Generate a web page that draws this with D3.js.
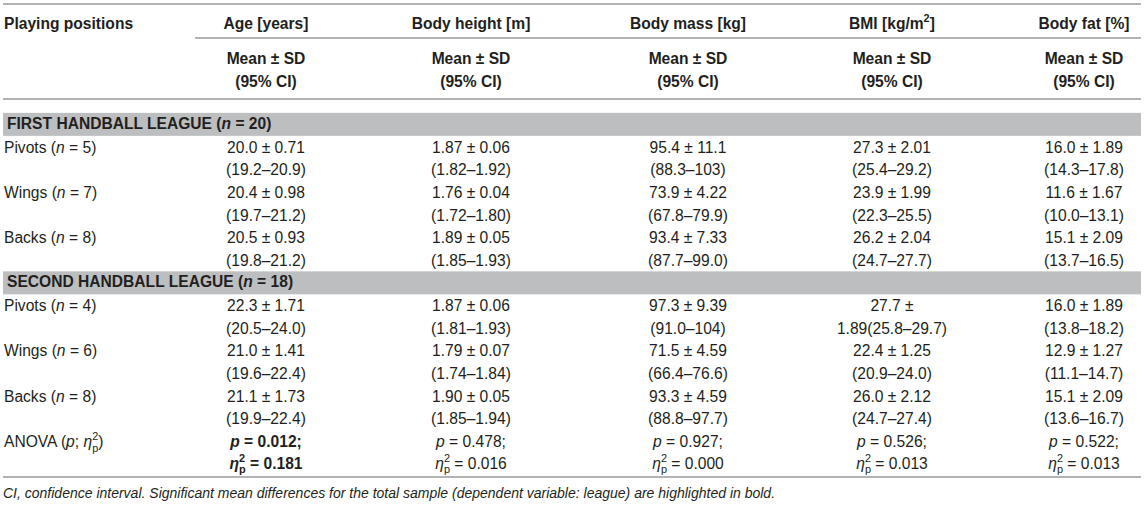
<!DOCTYPE html>
<html>
<head>
<meta charset="utf-8">
<script src="https://cdn.jsdelivr.net/npm/d3@7"></script>
<style>
  body { margin: 0; background: #fff; }
  svg { display: block; font-family: "Liberation Sans", Arial, sans-serif; }
</style>
</head>
<body>
<div id="table"></div>
<script>
var W = 1145,
	H = 511;

// column headers (*x* = italic, ^x = superscript, ^x_y = stacked sup/sub)
var columns = ["Age [years]", "Body height [m]", "Body mass [kg]", "BMI [kg/m^2]", "Body fat [%]"];
var positions = ["Pivots", "Wings", "Backs"];
var leagues = ["FIRST HANDBALL LEAGUE", "SECOND HANDBALL LEAGUE"];
var leagueN = [20, 18];
var groupN = [[5, 7, 8], [4, 6, 8]];

// first league, mean ± SD and 95% CI per position
var firstMeanSD = [
	["20.0 ± 0.71", "1.87 ± 0.06", "95.4 ± 11.1", "27.3 ± 2.01", "16.0 ± 1.89"],
	["20.4 ± 0.98", "1.76 ± 0.04", "73.9 ± 4.22", "23.9 ± 1.99", "11.6 ± 1.67"],
	["20.5 ± 0.93", "1.89 ± 0.05", "93.4 ± 7.33", "26.2 ± 2.04", "15.1 ± 2.09"]
];
var firstCI = [
	["(19.2–20.9)", "(1.82–1.92)", "(88.3–103)", "(25.4–29.2)", "(14.3–17.8)"],
	["(19.7–21.2)", "(1.72–1.80)", "(67.8–79.9)", "(22.3–25.5)", "(10.0–13.1)"],
	["(19.8–21.2)", "(1.85–1.93)", "(87.7–99.0)", "(24.7–27.7)", "(13.7–16.5)"]
];
// second league
var secondMeanSD = [
	["22.3 ± 1.71", "1.87 ± 0.06", "97.3 ± 9.39", "27.7 ±", "16.0 ± 1.89"],
	["21.0 ± 1.41", "1.79 ± 0.07", "71.5 ± 4.59", "22.4 ± 1.25", "12.9 ± 1.27"],
	["21.1 ± 1.73", "1.90 ± 0.05", "93.3 ± 4.59", "26.0 ± 2.12", "15.1 ± 2.09"]
];
var secondCI = [
	["(20.5–24.0)", "(1.81–1.93)", "(91.0–104)", "1.89(25.8–29.7)", "(13.8–18.2)"],
	["(19.6–22.4)", "(1.74–1.84)", "(66.4–76.6)", "(20.9–24.0)", "(11.1–14.7)"],
	["(19.9–22.4)", "(1.85–1.94)", "(88.8–97.7)", "(24.7–27.4)", "(13.6–16.7)"]
];
// ANOVA
var anovaP = ["0.012", "0.478", "0.927", "0.526", "0.522"];
var anovaEta = ["0.181", "0.016", "0.000", "0.013", "0.013"];
var significant = [true, false, false, false, false];

var footnote = "CI, confidence interval. Significant mean differences for the total sample (dependent variable: league) are highlighted in bold.";

// layout
var FS = 15.6,
	ink = "#231f20",
	rule = "#b1b3b6",
	band = "#bcbec0",
	left = 3,
	right = 1141;

var x = d3.scaleOrdinal()
	.domain(columns)
	.range([266, 471, 688, 892, 1084]);

// line index -> centre y (0 = first band, 15 = last eta line)
var y = d3.scaleLinear()
	.domain([1, 15])
	.range([147, 464]);

var svg = d3.select("#table")
	.append("svg")
	.attr("width", W)
	.attr("height", H);

// write mini-markup into a text element
function rich(text, str, fs) {
	var parts = str.split(/(\*[^*]+\*|\^[^_\s\]]_[^\s=;)]|\^[^\s\]])/).filter(function(s){ return s; });
	var shift = 0;
	parts.forEach(function(p) {
		var t;
		if (p[0] === "*") {
			t = text.append("tspan").attr("font-style", "italic").text(p.slice(1, -1));
			if (shift) t.attr("dy", -shift);
			shift = 0;
		} else if (p[0] === "^" && p.length === 4) {
			var small = fs * 0.7;
			text.append("tspan").attr("font-size", small)
				.attr("dy", -0.42 * fs - shift).text(p[1]);
			text.append("tspan").attr("font-size", small)
				.attr("dx", -0.556 * small).attr("dy", 0.72 * fs).text(p[3]);
			shift = 0.3 * fs;
		} else if (p[0] === "^") {
			text.append("tspan").attr("font-size", fs * 0.7)
				.attr("dy", -0.4 * fs - shift).text(p.slice(1));
			shift = -0.4 * fs;
		} else {
			t = text.append("tspan").text(p);
			if (shift) t.attr("dy", -shift);
			shift = 0;
		}
	});
	return text;
}

function label(str, px, py, opts) {
	opts = opts || {};
	var t = svg.append("text")
		.attr("x", px)
		.attr("y", py)
		.attr("dy", "0.36em")
		.attr("font-size", opts.size || FS)
		.attr("fill", ink)
		.attr("text-anchor", opts.anchor || "start");
	if (opts.bold) t.attr("font-weight", "bold");
	if (opts.italic) t.attr("font-style", "italic");
	return rich(t, str, opts.size || FS);
}

function hline(x1, x2, yy) {
	svg.append("line")
		.attr("x1", x1).attr("x2", x2)
		.attr("y1", yy).attr("y2", yy)
		.attr("stroke", rule)
		.attr("stroke-width", 2);
}

// header
hline(left, right, 4);
label("Playing positions", 4, 23, {bold: true});
columns.forEach(function(c) {
	label(c, x(c), 23, {bold: true, anchor: "middle"});
	label("Mean ± SD", x(c), 58, {bold: true, anchor: "middle"});
	label("(95% CI)", x(c), 81, {bold: true, anchor: "middle"});
});
hline(195, right, 38);
hline(left, right, 99);

// league blocks
var blocks = [[firstMeanSD, firstCI], [secondMeanSD, secondCI]];
blocks.forEach(function(b, li) {
	var start = li * 7;
	svg.append("rect")
		.attr("x", left)
		.attr("y", y(start) - 11.5)
		.attr("width", right - left)
		.attr("height", 23)
		.attr("fill", band);
	label(leagues[li] + " (*n* = " + leagueN[li] + ")", 7, y(start) - 1, {bold: true});

	positions.forEach(function(pos, pi) {
		var row = start + 1 + pi * 2;
		label(pos + " (*n* = " + groupN[li][pi] + ")", 4, y(row));
		columns.forEach(function(c, ci) {
			label(b[0][pi][ci], x(c), y(row), {anchor: "middle"});
			label(b[1][pi][ci], x(c), y(row + 1), {anchor: "middle"});
		});
	});
});

// ANOVA row
label("ANOVA (*p*; *η*^2_p)", 4, y(14));
columns.forEach(function(c, ci) {
	label("*p* = " + anovaP[ci] + ";", x(c), y(14), {anchor: "middle", bold: significant[ci]});
	label("*η*^2_p = " + anovaEta[ci], x(c), y(15) - 1, {anchor: "middle", bold: significant[ci]});
});
hline(left, right, 477);

label(footnote, 3, 493, {italic: true, size: 14});
</script>
</body>
</html>
